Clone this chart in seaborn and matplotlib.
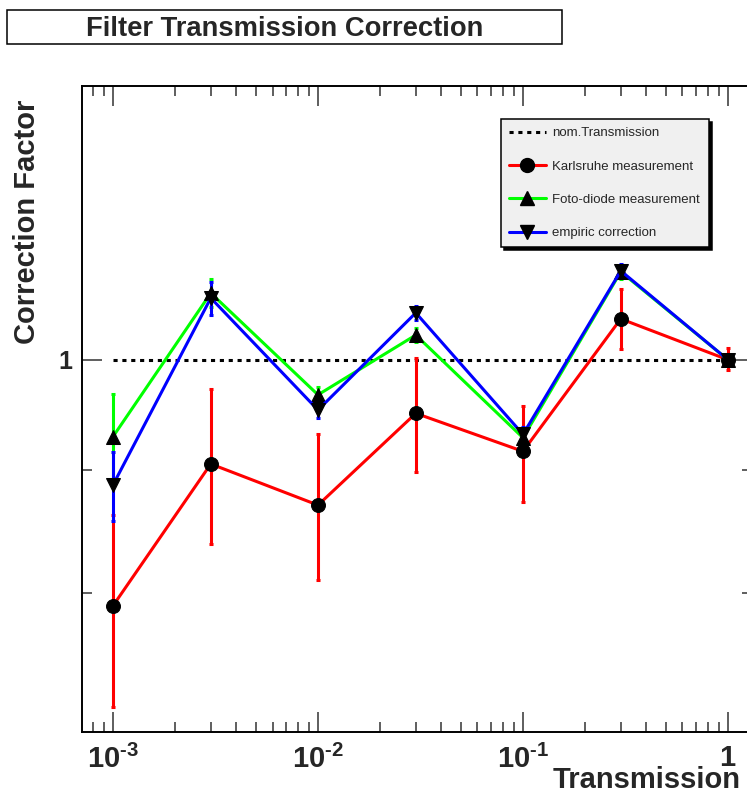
import numpy as np
import pandas as pd
import matplotlib
matplotlib.use("Agg")
import matplotlib.pyplot as plt
from matplotlib.lines import Line2D
from matplotlib.patches import Rectangle
from matplotlib.ticker import FixedLocator, FixedFormatter, LogLocator, NullFormatter
import seaborn as sns

# ---------------- data ----------------
transmission = [0.001, 0.003, 0.01, 0.03, 0.1, 0.3, 1.0]

karlsruhe = [0.790, 0.905, 0.870, 0.950, 0.916, 1.040, 1.000]
karlsruhe_lo = [0.717, 0.838, 0.810, 0.898, 0.873, 1.010, 0.990]
karlsruhe_hi = [0.862, 0.972, 0.931, 1.002, 0.957, 1.070, 1.011]

fotodiode = [0.929, 1.066, 0.967, 1.024, 0.928, 1.088, 1.000]
fotodiode_lo = [0.892, 1.052, 0.960, 1.017, 0.921, 1.081, 0.995]
fotodiode_hi = [0.968, 1.081, 0.974, 1.031, 0.935, 1.095, 1.005]

empiric = [0.887, 1.061, 0.953, 1.046, 0.931, 1.089, 1.000]
empiric_lo = [0.857, 1.044, 0.946, 1.039, 0.924, 1.082, 0.995]
empiric_hi = [0.915, 1.077, 0.960, 1.053, 0.938, 1.096, 1.005]

nominal_x = [0.001, 1.0]
nominal_y = [1.0, 1.0]

series_labels = ["nom.Transmission", "Karlsruhe measurement",
                 "Foto-diode measurement", "empiric correction"]

xtick_values = [0.001, 0.01, 0.1, 1.0]
xtick_labels = ["$10^{\\text{-}3}$", "$10^{\\text{-}2}$", "$10^{\\text{-}1}$", "$1$"]
ytick_major = [1.0]
ytick_major_labels = ["1"]
ytick_minor = [0.8, 0.9]

title_text = "Filter Transmission Correction"
xlabel_text = "Transmission"
ylabel_text = "Correction Factor"

# ---------------- style ----------------
sns.set_theme(style="ticks")
plt.rcParams["font.family"] = ["Liberation Sans", "DejaVu Sans"]
plt.rcParams["mathtext.fontset"] = "custom"
plt.rcParams["mathtext.rm"] = "Liberation Sans:bold"
plt.rcParams["mathtext.bf"] = "Liberation Sans:bold"
plt.rcParams["mathtext.it"] = "Liberation Sans:bold"
plt.rcParams["mathtext.sf"] = "Liberation Sans:bold"

W, H = 747, 794
fig = plt.figure(figsize=(W / 100, H / 100), dpi=100)
fig.patch.set_facecolor("white")

# axes frame: x 82..752 px, y 86..732 px
ax = fig.add_axes([82 / W, 1 - 732 / H, (752 - 82) / W, (732 - 86) / H])
ax.set_facecolor("white")
ax.set_xscale("log")
ax.set_yscale("log")

LW = 2.2
MS = 10
dotted = (0, (1.35, 1.55))

# nominal line
sns.lineplot(x=nominal_x, y=nominal_y, ax=ax, color="black", linewidth=LW,
             linestyle=dotted, zorder=2, legend=False)

series = [
    (karlsruhe, karlsruhe_lo, karlsruhe_hi, "#ff0000", "o"),
    (fotodiode, fotodiode_lo, fotodiode_hi, "#00ff00", "^"),
    (empiric, empiric_lo, empiric_hi, "#0000ff", "v"),
]
for i, (vals, lo, hi, col, mk) in enumerate(series):
    v = np.array(vals)
    yerr = np.vstack([v - np.array(lo), np.array(hi) - v])
    ax.errorbar(transmission, v, yerr=yerr, fmt="none", ecolor=col,
                elinewidth=LW, capsize=1.6, capthick=LW, zorder=3 + i * 0.1)
    df = pd.DataFrame({"x": transmission, "y": vals})
    sns.lineplot(data=df, x="x", y="y", ax=ax, color=col, linewidth=LW,
                 marker=mk, markersize=MS, markerfacecolor="black",
                 markeredgecolor="black", zorder=4 + i * 0.1, legend=False,
                 sort=False, errorbar=None)

ax.set_xlim(7.06e-4, 1.31)
ax.set_ylim(0.70, 1.30)

# ticks
ax.xaxis.set_major_locator(FixedLocator(xtick_values))
ax.xaxis.set_major_formatter(FixedFormatter(xtick_labels))
ax.xaxis.set_minor_locator(LogLocator(base=10, subs=np.arange(2, 10), numticks=50))
ax.xaxis.set_minor_formatter(NullFormatter())
ax.yaxis.set_major_locator(FixedLocator(ytick_major))
ax.yaxis.set_major_formatter(FixedFormatter(ytick_major_labels))
ax.yaxis.set_minor_locator(FixedLocator(ytick_minor))
ax.yaxis.set_minor_formatter(NullFormatter())

ax.tick_params(which="both", direction="in", top=True, right=True,
               color="#333333", width=1.1)
ax.tick_params(which="major", length=14.4)
ax.tick_params(which="minor", length=7.2)
ax.tick_params(axis="x", which="major", labelsize=21, pad=9)
ax.tick_params(axis="y", which="major", labelsize=18, pad=7)
for lab in ax.get_yticklabels():
    lab.set_fontweight("bold")

for sp in ax.spines.values():
    sp.set_linewidth(1.4)
    sp.set_color("black")
    sp.set_visible(True)

ax.set_xlabel("")
ax.set_ylabel("")

# axis titles (ROOT style, aligned to axis ends)
fig.text(553 / W, 1 - 788 / H, xlabel_text, fontsize=21, fontweight="bold",
         ha="left", va="baseline")
fig.text(35 / W, 1 - 100 / H, ylabel_text, fontsize=21, fontweight="bold",
         rotation=90, rotation_mode="anchor", ha="right", va="baseline")

# title box
fig.patches.append(Rectangle((7 / W, 1 - 44 / H), (562 - 7) / W, (44 - 10) / H,
                             transform=fig.transFigure, facecolor="white",
                             edgecolor="black", linewidth=1.1, zorder=1))
fig.text(285 / W, 1 - 35.5 / H, title_text, fontsize=19.7, fontweight="bold",
         ha="center", va="baseline", zorder=2)

# legend
handles = [
    Line2D([], [], color="black", linewidth=LW, linestyle=dotted),
    Line2D([], [], color="#ff0000", linewidth=LW, marker="o", markersize=MS,
           markerfacecolor="black", markeredgecolor="black"),
    Line2D([], [], color="#00ff00", linewidth=LW, marker="^", markersize=MS,
           markerfacecolor="black", markeredgecolor="black"),
    Line2D([], [], color="#0000ff", linewidth=LW, marker="v", markersize=MS,
           markerfacecolor="black", markeredgecolor="black"),
]
leg = ax.legend(handles, series_labels, loc="upper left",
                bbox_to_anchor=(501 / W, 1 - 247 / H, 208 / W, 128 / H),
                bbox_transform=fig.transFigure, mode="expand",
                fontsize=9.5, frameon=True, fancybox=False,
                shadow={"color": "black", "alpha": 1.0},
                borderpad=0.6, labelspacing=1.6, handlelength=2.8,
                handletextpad=0.45, borderaxespad=0.0)
frame = leg.get_frame()
frame.set_facecolor("#f0f0f0")
frame.set_edgecolor("black")
frame.set_linewidth(1.1)
frame.set_alpha(1.0)

fig.savefig("out.png", dpi=100, facecolor="white")
